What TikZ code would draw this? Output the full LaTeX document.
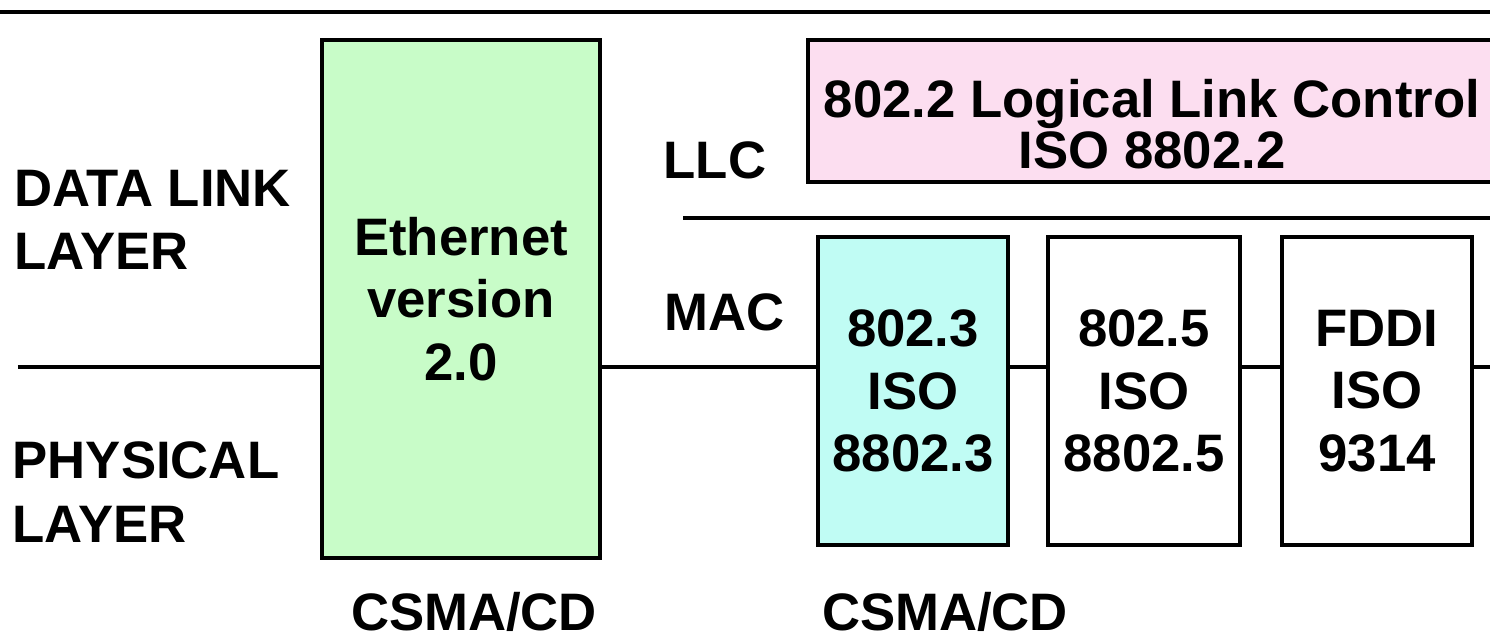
\documentclass[tikz,border=0pt]{standalone}
\usepackage{fontspec}
\setmainfont{Liberation Sans}
\usepackage{xcolor}
\usepackage{tikz}
\usetikzlibrary{positioning}

\definecolor{ethgreen}{HTML}{C8FCC8}
\definecolor{llcpink}{HTML}{FCDEF0}
\definecolor{maccyan}{HTML}{C0FCF4}

\begin{document}
\begin{tikzpicture}
  [
    lbl/.style={
       font=\fontsize{15}{18}\selectfont\bfseries,
       inner sep=0pt,
       align=center
    },
    macbox/.style={
       draw=black,
       line width=1.2pt,
       minimum width=1.9cm,
       minimum height=3.08cm,
       inner sep=0pt,
       align=center,
       font=\fontsize{15}{17.8}\selectfont\bfseries
    },
    rule/.style={
       draw=black,
       line width=1.2pt
    }
  ]
  \clip (0,0) rectangle (14.9,6.41);

  % layer separators
  \draw [rule] (0,6.29) -- (14.9,6.29);
  \coordinate (phyleft)  at ( 0.18,2.74);
  \coordinate (phyright) at (14.9,2.74);
  \coordinate (subleft)  at ( 6.83,4.23);
  \coordinate (subright) at (14.9,4.23);
  \draw [rule] (subleft) -- (subright);

  \node (dll) at (0.14,4.21) [lbl, anchor=west, align=left] {DATA LINK\\LAYER};
  \node (phy) at (0.12,1.49) [lbl, anchor=west, align=left] {PHYSICAL\\LAYER};

  \node (eth) at (4.61,3.42) [macbox, fill=ethgreen, minimum width=2.78cm, minimum height=5.18cm]
        {Ethernet\\version\\2.0};

  \node (llc) at (7.15,4.81) [lbl] {LLC};
  \node (mac) at (7.25,3.29) [lbl] {MAC};

  \node (llcbox) at (11.52,5.30) [macbox, fill=llcpink, minimum width=6.88cm, minimum height=1.42cm] {};
  \node (llctxt) at (11.52,5.17) [lbl, font=\fontsize{15}{13.6}\selectfont\bfseries]
        {802.2 Logical Link Control\\ISO 8802.2};

  \node (m3) at ( 9.13,2.50) [macbox, fill=maccyan] {802.3\\ISO\\8802.3};
  \node (m5) at (11.44,2.50) [macbox, minimum width=1.92cm] {802.5\\ISO\\8802.5};
  \node (fd) at (13.77,2.50) [macbox] {FDDI\\ISO\\9314};

  \draw [rule] (phyleft) -- (phyleft -| eth.west);
  \draw [rule] (phyleft -| eth.east) -- (phyleft -| m3.west);
  \draw [rule] (phyleft -| m3.east) -- (phyleft -| m5.west);
  \draw [rule] (phyleft -| m5.east) -- (phyleft -| fd.west);
  \draw [rule] (phyleft -| fd.east) -- (phyright);

  \node (csma1) at (4.74,0.11) [lbl, anchor=base] {CSMA/CD};
  \node (csma2) at (9.45,0.11) [lbl, anchor=base] {CSMA/CD};
\end{tikzpicture}
\end{document}
